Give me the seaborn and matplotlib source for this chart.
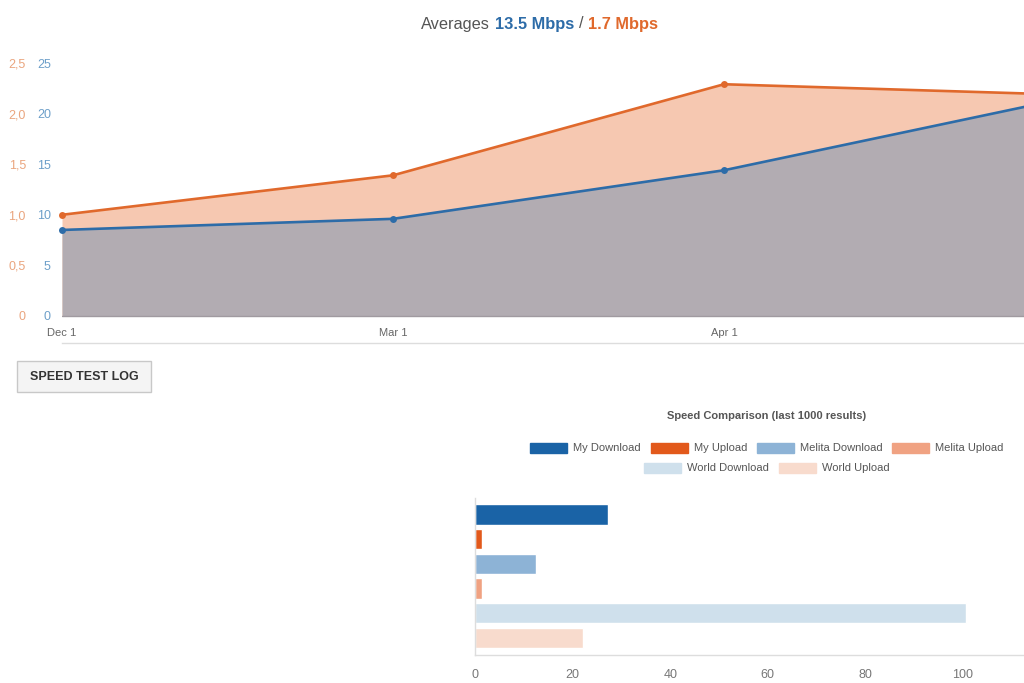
import numpy as np
import matplotlib.pyplot as plt
import seaborn as sns
from matplotlib.patches import Patch, Rectangle

# Speed history (top chart)
dates = ["Dec 1", "Mar 1", "Apr 1", "May 1"]
download = [8.5, 9.6, 14.4, 21.3]   # Mbps, left blue scale
upload = [1.0, 1.39, 2.29, 2.19]    # Mbps, left orange scale

# Speed comparison (bottom chart)
bar_labels = ["My Download", "My Upload", "Melita Download",
              "Melita Upload", "World Download", "World Upload"]
bar_values = [27.2, 1.5, 12.6, 1.5, 100.6, 22.1]
bar_colors = ["#1a63a6", "#e2591b", "#8db3d6", "#f0a282", "#cfe0ec", "#f8dbcd"]

sns.set_style("white")
plt.rcParams["font.family"] = ["Liberation Sans", "DejaVu Sans"]

BLUE = "#2d6ca8"
ORANGE = "#e0692c"

fig = plt.figure(figsize=(10.24, 6.83), dpi=100)

# ---- top area chart ----
ax_up = fig.add_axes([62 / 1024, 1 - 343 / 683, 1 - 62 / 1024, 280 / 683])
ax_dn = ax_up.twinx()
x = np.arange(len(dates))

ax_up.fill_between(x, upload, color="#f6c8b1", lw=0)
sns.lineplot(x=x, y=upload, ax=ax_up, color=ORANGE, lw=1.9,
             marker="o", markersize=5, markeredgewidth=0)
ax_dn.fill_between(x, download, color="#b2acb2", lw=0)
sns.lineplot(x=x, y=download, ax=ax_dn, color=BLUE, lw=1.9,
             marker="o", markersize=5, markeredgewidth=0)
ax_dn.axhline(0, color="#a09aa0", lw=1)
for a in (ax_up, ax_dn):
    for ln in a.lines[:1]:
        ln.set_clip_on(False)

ax_up.set_xticks(x)
ax_up.set_xticklabels(dates)
# the chart runs past the right edge, so the last point is cut off
xmax = (1024 - 62) / 331
for a in (ax_up, ax_dn):
    a.set_autoscalex_on(False)
    a.set_xlim(0, xmax)
ax_up.set_ylim(-0.267, 2.5)
ax_dn.set_ylim(-2.67, 25)
ax_up.set_yticks([0, 0.5, 1.0, 1.5, 2.0, 2.5])
ax_up.set_yticklabels(["0", "0,5", "1,0", "1,5", "2,0", "2,5"])
ax_dn.set_yticks([0, 5, 10, 15, 20, 25])
ax_dn.yaxis.tick_left()
ax_up.tick_params(axis="x", length=0, pad=-11, labelsize=8, labelcolor="#666666")
ax_up.tick_params(axis="y", length=0, pad=26, labelsize=9, labelcolor="#eaa57e")
ax_dn.tick_params(axis="y", length=0, pad=8, labelsize=9, labelcolor="#6d9fc9")
for a in (ax_up, ax_dn):
    for s in ("top", "right", "left"):
        a.spines[s].set_visible(False)
ax_dn.spines["bottom"].set_visible(False)
ax_up.spines["bottom"].set_color("#dddddd")
ax_up.spines["bottom"].set_linewidth(1)

# multi-coloured title
t = fig.text(421 / 1024, 1 - 24 / 683, "Averages", fontsize=11.8,
             color="#555555", va="center")
t = ax_up.annotate("13.5 Mbps", xy=(1, 0), xycoords=t, va="bottom",
                   xytext=(3.5, 0), textcoords="offset points",
                   fontsize=11.8, fontweight="bold", color=BLUE)
t = ax_up.annotate("/", xy=(1, 0), xycoords=t, va="bottom",
                   xytext=(3.5, 0), textcoords="offset points",
                   fontsize=11.8, color="#555555")
ax_up.annotate("1.7 Mbps", xy=(1, 0), xycoords=t, va="bottom",
               xytext=(3.5, 0), textcoords="offset points",
               fontsize=11.8, fontweight="bold", color=ORANGE)

# button
fig.add_artist(Rectangle((17 / 1024, 1 - 392 / 683), 134 / 1024, 31 / 683,
                         transform=fig.transFigure, facecolor="#f4f4f4",
                         edgecolor="#c8c8c8", lw=1))
fig.text(84 / 1024, 1 - 377 / 683, "SPEED TEST LOG", ha="center", va="center",
         fontsize=9, fontweight="bold", color="#333333")

# ---- bottom bar chart ----
ax_bar = fig.add_axes([475 / 1024, 1 - 655 / 683, 1 - 475 / 1024, 157 / 683])
sns.barplot(x=bar_values, y=bar_labels, hue=bar_labels, palette=bar_colors,
            legend=False, width=0.82, saturation=1, ax=ax_bar, orient="h")
ax_bar.set_xticks([0, 20, 40, 60, 80, 100])
ax_bar.set_xlim(0, 112.5)
ax_bar.set_ylim(5.7, -0.67)
ax_bar.set_yticks([])
ax_bar.tick_params(axis="x", length=0, pad=10, labelsize=9, labelcolor="#777777")
for s in ("top", "right"):
    ax_bar.spines[s].set_visible(False)
for s in ("left", "bottom"):
    ax_bar.spines[s].set_color("#dddddd")
    ax_bar.spines[s].set_linewidth(1)

fig.text(767 / 1024, 1 - 416 / 683, "Speed Comparison (last 1000 results)",
         ha="center", va="center", fontsize=8, fontweight="bold", color="#555555")

handles = [Patch(facecolor=c, edgecolor=c, label=l) for c, l in zip(bar_colors, bar_labels)]
leg_kw = dict(loc="center", frameon=False, fontsize=8, handlelength=3.3,
              handleheight=1.0, handletextpad=0.55, columnspacing=0.9,
              labelcolor="#555555")
fig.legend(handles=handles[:4], ncol=4, bbox_to_anchor=(767 / 1024, 1 - 448 / 683), **leg_kw)
fig.legend(handles=handles[4:], ncol=2, bbox_to_anchor=(767 / 1024, 1 - 468 / 683), **leg_kw)

fig.savefig("out.png", dpi=100)
